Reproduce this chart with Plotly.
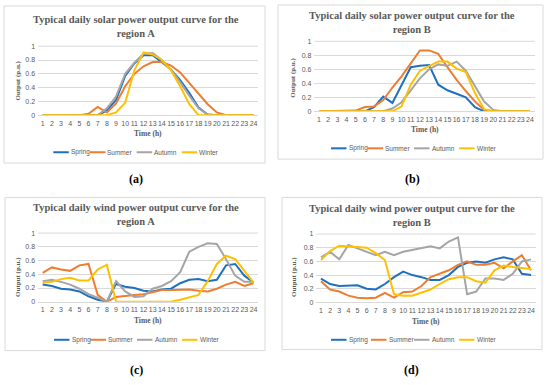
import plotly.graph_objects as go

W, H = 550, 385

hours = list(range(1, 25))
hour_labels = [str(h) for h in hours]
seasons = ["Spring", "Summer", "Autumn", "Winter"]
colors = ["#1F70C1", "#ED7D31", "#A5A5A5", "#FFC000"]
y_ticks = [0, 0.2, 0.4, 0.6, 0.8, 1]
y_tick_labels = ["0", "0.2", "0.4", "0.6", "0.8", "1"]

# (a) solar, region A
solar_a_spring = [0, 0, 0, 0, 0, 0, 0, 0.07, 0.22, 0.57, 0.75, 0.87, 0.87, 0.77, 0.66, 0.51, 0.32, 0.11, 0.01, 0, 0, 0, 0, 0]
solar_a_summer = [0, 0, 0, 0, 0, 0.02, 0.12, 0.04, 0.17, 0.42, 0.60, 0.71, 0.77, 0.77, 0.72, 0.62, 0.47, 0.32, 0.16, 0.04, 0, 0, 0, 0]
solar_a_autumn = [0, 0, 0, 0, 0, 0, 0, 0.10, 0.27, 0.60, 0.76, 0.89, 0.90, 0.80, 0.66, 0.48, 0.28, 0.10, 0.01, 0, 0, 0, 0, 0]
solar_a_winter = [0, 0, 0, 0, 0, 0, 0, 0, 0.04, 0.18, 0.65, 0.91, 0.88, 0.80, 0.65, 0.42, 0.16, 0, 0, 0, 0, 0, 0, 0]

# (b) solar, region B
solar_b_spring = [0, 0, 0, 0, 0, 0, 0.06, 0.21, 0.12, 0.38, 0.63, 0.65, 0.66, 0.38, 0.30, 0.25, 0.20, 0.06, 0, 0, 0, 0, 0, 0]
solar_b_summer = [0, 0, 0, 0, 0.01, 0.06, 0.07, 0.16, 0.34, 0.50, 0.68, 0.87, 0.87, 0.82, 0.63, 0.45, 0.29, 0.14, 0.02, 0, 0, 0, 0, 0]
solar_b_autumn = [0, 0, 0, 0, 0, 0, 0, 0, 0.04, 0.13, 0.30, 0.47, 0.60, 0.67, 0.65, 0.71, 0.58, 0.35, 0.14, 0.02, 0, 0, 0, 0]
solar_b_winter = [0, 0, 0, 0, 0, 0, 0, 0, 0, 0.07, 0.38, 0.58, 0.64, 0.71, 0.71, 0.61, 0.56, 0.26, 0.03, 0, 0, 0, 0, 0]

# (c) wind, region A
wind_a_spring = [0.25, 0.23, 0.19, 0.18, 0.15, 0.08, 0.03, 0, 0.26, 0.22, 0.20, 0.16, 0.15, 0.18, 0.19, 0.27, 0.32, 0.33, 0.30, 0.32, 0.53, 0.55, 0.38, 0.28]
wind_a_summer = [0.42, 0.50, 0.47, 0.45, 0.53, 0.55, 0.10, 0, 0.07, 0.09, 0.10, 0.11, 0.14, 0.17, 0.17, 0.18, 0.18, 0.16, 0.15, 0.19, 0.25, 0.29, 0.23, 0.27]
wind_a_autumn = [0.30, 0.32, 0.29, 0.25, 0.19, 0.11, 0.06, 0, 0.30, 0.15, 0.07, 0.08, 0.19, 0.23, 0.30, 0.43, 0.73, 0.80, 0.85, 0.84, 0.62, 0.38, 0.29, 0.29]
wind_a_winter = [0.28, 0.29, 0.33, 0.35, 0.31, 0.31, 0.47, 0.54, 0, 0, 0, 0, 0, 0, 0, 0.03, 0.07, 0.10, 0.30, 0.55, 0.67, 0.62, 0.45, 0.28]

# (d) wind, region B
wind_b_spring = [0.35, 0.27, 0.24, 0.24, 0.25, 0.20, 0.19, 0.27, 0.37, 0.45, 0.40, 0.37, 0.33, 0.33, 0.40, 0.52, 0.58, 0.60, 0.58, 0.63, 0.66, 0.63, 0.42, 0.40]
wind_b_summer = [0.31, 0.19, 0.16, 0.10, 0.07, 0.06, 0.07, 0.14, 0.07, 0.15, 0.16, 0.24, 0.37, 0.42, 0.47, 0.55, 0.60, 0.55, 0.55, 0.58, 0.50, 0.60, 0.69, 0.47]
wind_b_autumn = [0.66, 0.74, 0.63, 0.84, 0.79, 0.74, 0.69, 0.74, 0.69, 0.74, 0.77, 0.79, 0.82, 0.79, 0.89, 0.95, 0.12, 0.16, 0.35, 0.35, 0.33, 0.42, 0.60, 0.63]
wind_b_winter = [0.62, 0.75, 0.83, 0.82, 0.82, 0.80, 0.72, 0.62, 0.12, 0.10, 0.10, 0.15, 0.19, 0.27, 0.34, 0.37, 0.37, 0.31, 0.29, 0.47, 0.54, 0.52, 0.51, 0.49]

titles = [
    "Typical daily solar power output curve for the<br>region A",
    "Typical daily solar power output curve for the<br>region B",
    "Typical daily wind power output curve for the<br>region A",
    "Typical daily wind power output curve for the<br>region B",
]
panel_labels = ["(a)", "(b)", "(c)", "(d)"]
x_title = "Time (h)"
y_title = "Output (p.u.)"

panel_series = [
    [solar_a_spring, solar_a_summer, solar_a_autumn, solar_a_winter],
    [solar_b_spring, solar_b_summer, solar_b_autumn, solar_b_winter],
    [wind_a_spring, wind_a_summer, wind_a_autumn, wind_a_winter],
    [wind_b_spring, wind_b_summer, wind_b_autumn, wind_b_winter],
]

# layout geometry in pixels
geo = [
    dict(px=(38.1, 258.1), py=(43.0, 113.3), box=(4, 2, 265, 162), title=(136, 23), ytit=(18, 78),
         xtit=(148, 132), leg_y=151, leg_x=[53.3, 90.0, 136.7, 181.7], lab=(136, 178)),
    dict(px=(314.4, 534.6), py=(38.0, 109.3), box=(278, 1, 543, 158), title=(412, 19), ytit=(293, 75),
         xtit=(424.5, 128), leg_y=147, leg_x=[331.0, 367.7, 414.0, 459.0], lab=(412, 178)),
    dict(px=(38.1, 258.1), py=(233.3, 303.3), box=(5, 197, 265, 353), title=(136, 214.5), ytit=(18, 278),
         xtit=(148, 322), leg_y=342, leg_x=[54.0, 90.5, 137.0, 182.0], lab=(136, 373)),
    dict(px=(316.4, 535.6), py=(234.3, 304.0), box=(282, 197, 542, 352), title=(412, 215.5), ytit=(294, 278),
         xtit=(426, 323), leg_y=342, leg_x=[331.0, 371.0, 414.0, 459.0], lab=(411, 373)),
]

def fx(p):
    return p / W

def fy(p):
    return 1 - p / H

GRAY_TXT = "#595959"
TICK_FONT = dict(family="Liberation Sans", size=7, color=GRAY_TXT)
SERIF_B = "Liberation Serif"

fig = go.Figure()
layout = dict(width=W, height=H, margin=dict(l=0, r=0, t=0, b=0),
              paper_bgcolor="white", plot_bgcolor="white", showlegend=False)
annotations = []
shapes = []

for i, g in enumerate(geo):
    n = "" if i == 0 else str(i + 1)
    xa, ya = "x" + n, "y" + n
    for s, (name, vals) in enumerate(zip(seasons, panel_series[i])):
        fig.add_trace(go.Scatter(x=hours, y=vals, mode="lines", name=name,
                                 line=dict(color=colors[s], width=2),
                                 xaxis=xa, yaxis=ya, showlegend=False))
    layout["xaxis" + n] = dict(domain=[fx(g["px"][0]), fx(g["px"][1])], anchor=ya,
                               range=[0.5, 24.5], tickmode="array", tickvals=hours,
                               ticktext=hour_labels, showgrid=False, zeroline=False,
                               showline=True, linecolor="#D9D9D9", linewidth=1,
                               ticks="", tickangle=0, ticklabelstandoff=1,
                               tickfont=TICK_FONT, fixedrange=True)
    layout["yaxis" + n] = dict(domain=[fy(g["py"][1]), fy(g["py"][0])], anchor=xa,
                               range=[0, 1.0], tickmode="array", tickvals=y_ticks,
                               ticktext=y_tick_labels, showgrid=True, gridcolor="#D9D9D9",
                               gridwidth=1, zeroline=False, showline=False, ticks="",
                               ticklabelstandoff=2, tickfont=TICK_FONT, fixedrange=True)
    # chart border
    bx0, by0, bx1, by1 = g["box"]
    shapes.append(dict(type="rect", xref="paper", yref="paper", x0=fx(bx0), x1=fx(bx1),
                       y0=fy(by1), y1=fy(by0), line=dict(color="#D9D9D9", width=1)))
    # top gridline at 1
    shapes.append(dict(type="line", xref="paper", yref="paper", x0=fx(g["px"][0]), x1=fx(g["px"][1]),
                       y0=fy(g["py"][0]), y1=fy(g["py"][0]), line=dict(color="#D9D9D9", width=1),
                       layer="below"))
    # title
    annotations.append(dict(text="<b>" + titles[i] + "</b>", xref="paper", yref="paper",
                            x=fx(g["title"][0]), y=fy(g["title"][1]), xanchor="center", yanchor="middle",
                            showarrow=False, font=dict(family=SERIF_B, size=10.5, color=GRAY_TXT)))
    # axis titles
    annotations.append(dict(text="<b>" + y_title + "</b>", xref="paper", yref="paper",
                            x=fx(g["ytit"][0]), y=fy(g["ytit"][1]), xanchor="center", yanchor="middle",
                            textangle=-90, showarrow=False,
                            font=dict(family=SERIF_B, size=7, color=GRAY_TXT)))
    annotations.append(dict(text="<b>" + x_title + "</b>", xref="paper", yref="paper",
                            x=fx(g["xtit"][0]), y=fy(g["xtit"][1]), xanchor="center", yanchor="middle",
                            showarrow=False, font=dict(family=SERIF_B, size=7.5, color=GRAY_TXT)))
    # legend
    for s, name in enumerate(seasons):
        lx = g["leg_x"][s]
        shapes.append(dict(type="line", xref="paper", yref="paper", x0=fx(lx), x1=fx(lx + 15.5),
                           y0=fy(g["leg_y"]), y1=fy(g["leg_y"]), line=dict(color=colors[s], width=2)))
        annotations.append(dict(text=name, xref="paper", yref="paper", x=fx(lx + 15.5),
                                y=fy(g["leg_y"]), xanchor="left", yanchor="middle", showarrow=False,
                                font=dict(family="Liberation Sans", size=6.5, color=GRAY_TXT)))
    # panel label
    annotations.append(dict(text="<b>" + panel_labels[i] + "</b>", xref="paper", yref="paper",
                            x=fx(g["lab"][0]), y=fy(g["lab"][1]), xanchor="center", yanchor="middle",
                            showarrow=False, font=dict(family=SERIF_B, size=12, color="black")))

layout["annotations"] = annotations
layout["shapes"] = shapes
fig.update_layout(**layout)
fig.write_html("out.html", config={"displayModeBar": False},
               post_script="document.body.style.margin='0';")
